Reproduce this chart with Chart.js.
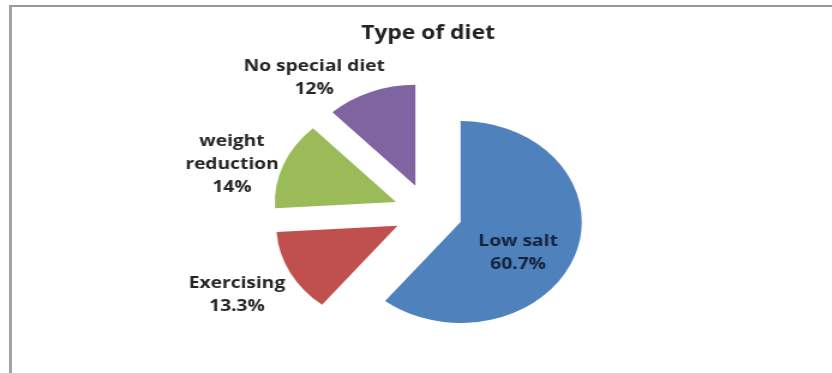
<!DOCTYPE html>
<html>
<head>
<meta charset="utf-8">
<title>Type of diet</title>
<script src="https://cdn.jsdelivr.net/npm/chart.js@4.4.1/dist/chart.umd.min.js"></script>
<style>
  html, body { margin: 0; padding: 0; background: #fff; width: 832px; height: 373px; overflow: hidden; }
  /* sheet frame: grey rule along the top and the left */
  #frame { position: absolute; left: 9px; top: 5px; width: 840px; height: 380px;
           border-top: 2px solid #9a9a9a; border-left: 3px solid #a3a3a3; }
  /* the chart is drawn narrower and widened, as in the original slide */
  #wrap { position: absolute; left: 0; top: 0; width: 694px; height: 373px;
          transform: scaleX(1.2); transform-origin: 0 0; }
</style>
</head>
<body>
<div id="frame"></div>
<div id="wrap"><canvas id="dietChart"></canvas></div>
<script>
const chartTitle = 'Type of diet';
const categories = ['Low salt', 'Exercising', ['weight', 'reduction'], 'No special diet'];
const shares = [60.7, 13.3, 14, 12];
const sliceColors = ['#4f81bd', '#c0504d', '#9bbb59', '#8064a2'];

// pulls every slice out from the centre along its bisector
const explodePlugin = {
  id: 'explode',
  afterDatasetUpdate(chart, args, opts) {
    const meta = chart.getDatasetMeta(args.index);
    meta.data.forEach(arc => {
      const mid = (arc.startAngle + arc.endAngle) / 2;
      arc.x += Math.cos(mid) * opts.distance;
      arc.y += Math.sin(mid) * opts.distance;
    });
  }
};

// category name + percentage next to (or inside) each slice
const sliceLabelPlugin = {
  id: 'sliceLabels',
  afterDatasetsDraw(chart, args, opts) {
    const ctx = chart.ctx;
    const meta = chart.getDatasetMeta(0);
    const values = chart.data.datasets[0].data;
    ctx.save();
    ctx.font = opts.font;
    ctx.textAlign = 'center';
    ctx.textBaseline = 'middle';
    meta.data.forEach((arc, i) => {
      const name = chart.data.labels[i];
      const lines = (Array.isArray(name) ? name : [name]).concat(values[i] + '%');
      const place = opts.placement[i];
      const w = Math.max(...lines.map(l => ctx.measureText(l).width));
      const h = lines.length * opts.lineHeight;
      const mid = (arc.startAngle + arc.endAngle) / 2;
      const px = arc.x + Math.cos(mid) * arc.outerRadius * place.r;
      const py = arc.y + Math.sin(mid) * arc.outerRadius * place.r;
      const cx = px + place.ax * w;
      const cy = py + place.ay * h;
      ctx.fillStyle = place.color;
      lines.forEach((l, k) => ctx.fillText(l, cx, cy - h / 2 + opts.lineHeight * (k + 0.5)));
    });
    ctx.restore();
  }
};

new Chart(document.getElementById('dietChart'), {
  type: 'pie',
  data: {
    labels: categories,
    datasets: [{
      data: shares,
      backgroundColor: sliceColors,
      borderWidth: 0
    }]
  },
  plugins: [explodePlugin, sliceLabelPlugin],
  options: {
    responsive: true,
    maintainAspectRatio: false,
    animation: false,
    events: [],
    radius: 101,
    layout: { padding: { left: 19.4, right: 0, top: 0, bottom: 2.8 } },
    plugins: {
      legend: { display: false },
      tooltip: { enabled: false },
      title: {
        display: true,
        text: chartTitle,
        color: '#222',
        font: { family: 'Open Sans', size: 19, weight: 'bold' },
        padding: { top: 22, bottom: 10 }
      },
      explode: { distance: 28.7 },
      sliceLabels: {
        font: 'bold 16px "Open Sans"',
        lineHeight: 23,
        placement: [
          { r: 0.6, ax: -0.14, ay: 0.23, color: '#14233c' },
          { r: 1.0, ax: -0.55, ay: 0.49, color: '#262626' },
          { r: 1.0, ax: -0.55, ay: 0.0, color: '#262626' },
          { r: 1.0, ax: -0.40, ay: -0.31, color: '#262626' }
        ]
      }
    }
  }
});
</script>
</body>
</html>
